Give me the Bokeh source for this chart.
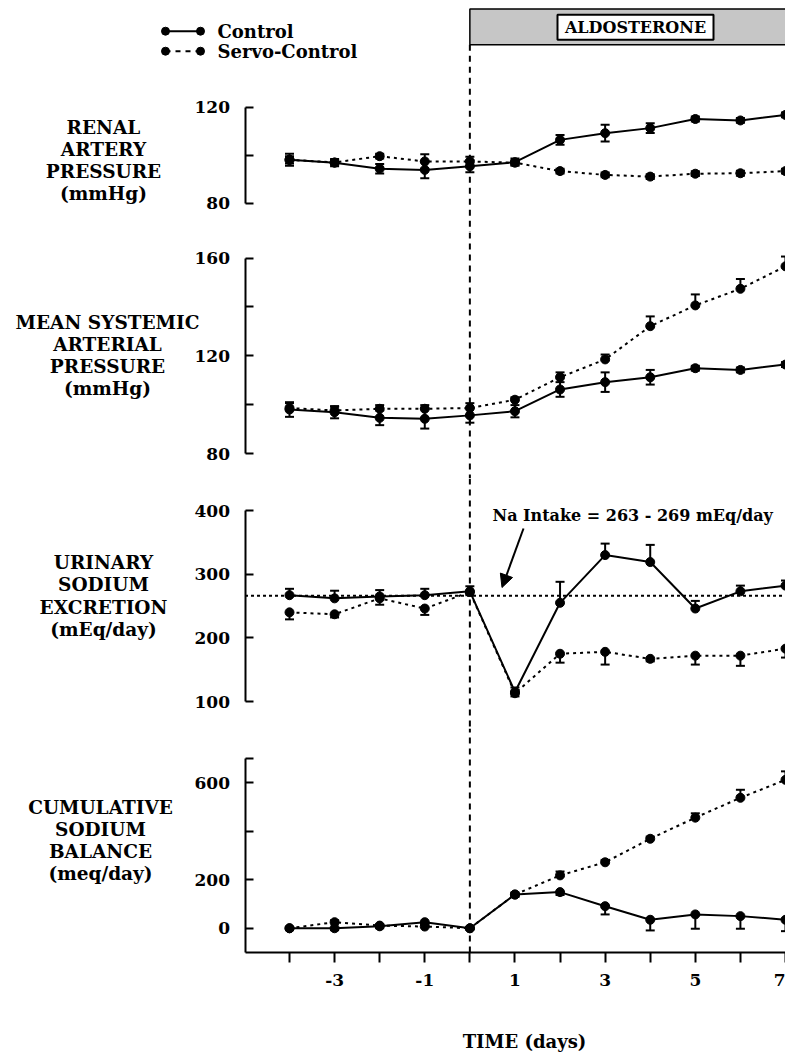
from bokeh.plotting import figure
from bokeh.layouts import column
from bokeh.models import (LinearAxis, FixedTicker, Range1d, Span, Label, Whisker,
                          TeeHead, ColumnDataSource, Arrow, NormalHead)
from bokeh.embed import file_html
from bokeh.resources import INLINE

# ---------------- data ----------------
days = [-4, -3, -2, -1, 0, 1, 2, 3, 4, 5, 6, 7]

rap_control = [98, 96.8, 94.3, 93.8, 95.3, 97, 106.3, 109.1, 111.2, 115, 114.4, 116.7]
rap_control_err = [2.5, 1.5, 2, 3.5, 2.5, 1.5, 2, 3.5, 2, 1, 1, 1]
rap_servo = [98, 96.9, 99.5, 97.3, 97.3, 96.8, 93.3, 91.7, 91, 92.2, 92.4, 93.3]
rap_servo_err = [1.5, 1, 1, 3, 2, 1, 1, 1, 1, 1, 1, 1]

msap_control = [98, 96.9, 94.6, 94.2, 95.6, 97.3, 106.2, 109.2, 111.2, 114.9, 114.2, 116.4]
msap_control_err = [3, 2.5, 3, 4, 3, 2.5, 3, 4, 3, 1, 1, 1]
msap_servo = [98.6, 97.6, 98.3, 98.3, 98.6, 102, 111.2, 118.5, 132.1, 140.6, 147.4, 156.6]
msap_servo_err = [2, 1.5, 1.5, 1.5, 2, 1, 2, 2, 4, 4.5, 4, 4]

una_control = [267, 262, 265, 267, 273, 115, 255, 330, 319, 246, 273, 282]
una_control_err = [10, 12, 10, 10, 8, 7, 33, 18, 27, 12, 9, 8]
una_servo = [240, 237, 262, 246, 272, 113, 175, 178, 167, 172, 172, 183]
una_servo_err = [11, 5, 10, 10, 5, 5, 14, 20, 4, 14, 16, 14]

cum_control = [0, 0, 8, 25, 0, 139, 149, 91, 35, 57, 50, 35]
cum_control_err = [8, 8, 8, 8, 5, 10, 12, 34, 44, 59, 52, 47]
cum_servo = [0, 25, 11, 7, 0, 139, 218, 272, 369, 456, 538, 612]
cum_servo_err = [5, 8, 5, 5, 5, 8, 16, 10, 9, 18, 33, 35]

na_intake_mid = 266
na_intake_text = "Na Intake = 263 - 269 mEq/day"

x_tick_values = list(range(-4, 8))
x_tick_labels = {t: (str(t) if t % 2 else "") for t in x_tick_values}

# ---------------- layout helpers ----------------
FONT = "DejaVu Serif"
W = 785
PAGE_X0 = 0
DAY_M4_PX = 289.0          # page x of day -4
DAY_7_PX = 785.0           # page x of day 7 (right edge)
PX_PER_DAY = (DAY_7_PX - DAY_M4_PX) / 11
AXIS_PX = 244.5            # page x of y axes
X_START = -4 - (DAY_M4_PX - PAGE_X0) / PX_PER_DAY
X_END = -4 + (PAGE_X0 + W - DAY_M4_PX) / PX_PER_DAY


def px2x(px):
    return -4 + (px - DAY_M4_PX) / PX_PER_DAY


AXIS_X = px2x(AXIS_PX)

# (page_top, page_bottom, v_hi, px_hi, v_lo, px_lo)
P1 = (0, 232, 120, 106.5, 80, 202.5)
P2 = (232, 478, 160, 257.5, 80, 453)
P3 = (478, 728, 400, 510, 100, 701)
P4 = (728, 1057, 700, 758, -100, 952)


def scale(P):
    return (P[5] - P[3]) / (P[2] - P[4])


def yrange(P):
    s = scale(P)
    return Range1d(start=P[4] - (P[1] - P[5]) / s, end=P[2] + (P[3] - P[0]) / s)


def py2y(P, py):
    return P[2] + (P[3] - py) / scale(P)


def make_fig(P):
    h = int(round(P[1] - P[0]))
    p = figure(width=W, height=h, x_range=Range1d(X_START, X_END), y_range=yrange(P),
               output_backend="svg", toolbar_location=None,
               x_axis_location=None, y_axis_location=None,
               min_border_left=0, min_border_right=0, min_border_top=0,
               min_border_bottom=0)
    p.grid.visible = False
    p.outline_line_color = None
    p.background_fill_color = "white"
    p.border_fill_color = "white"
    return p


def style_axis(ax):
    ax.axis_line_width = 2
    ax.axis_line_color = "black"
    ax.major_tick_line_width = 2
    ax.minor_tick_line_color = None
    ax.major_label_text_font = FONT
    ax.major_label_text_font_style = "bold"
    ax.major_label_text_font_size = "17px"
    ax.major_label_text_color = "black"


def add_yaxis(p, lo, hi, ticks, hidden):
    ax = LinearAxis(fixed_location=AXIS_X, bounds=(lo, hi),
                    ticker=FixedTicker(ticks=ticks, minor_ticks=[]),
                    major_label_overrides={t: "" for t in hidden})
    style_axis(ax)
    ax.major_tick_in = 8
    ax.major_tick_out = 0
    ax.major_label_standoff = 15
    p.add_layout(ax, "left")


def side_label(p, P, text, cx, cy):
    p.add_layout(Label(x=px2x(cx), y=py2y(P, cy), text=text, text_align="center",
                       text_baseline="middle", text_font=FONT, text_font_style="bold",
                       text_font_size="18.5px", text_line_height=1.05, text_color="black"))


def series(p, yvals, errs, dashed, up=True, down=True):
    lower = [v - (e if down else 0) for v, e in zip(yvals, errs)]
    upper = [v + (e if up else 0) for v, e in zip(yvals, errs)]
    src = ColumnDataSource(dict(x=days, y=yvals, lower=lower, upper=upper))
    p.add_layout(Whisker(source=src, base="x", lower="lower", upper="upper",
                         line_width=2, line_color="black",
                         lower_head=TeeHead(size=9, line_width=2, line_color="black") if down else None,
                         upper_head=TeeHead(size=9, line_width=2, line_color="black") if up else None))
    if dashed:
        p.line("x", "y", source=src, line_color="black", line_width=2, line_dash="3 4")
    else:
        p.line("x", "y", source=src, line_color="black", line_width=2)
    p.scatter("x", "y", source=src, size=9, fill_color="black", line_color="black")


def day0_span(p):
    p.add_layout(Span(location=0, dimension="height", line_color="black",
                      line_width=2, line_dash="6 5"))


# ---------------- panel 1 ----------------
f1 = make_fig(P1)
bar_bottom = py2y(P1, 44.3)
f1.segment(x0=0, y0=bar_bottom, x1=0, y1=py2y(P1, 232), line_color="black",
           line_width=2, line_dash="6 5")
f1.quad(left=0, right=X_END + 1, bottom=bar_bottom, top=py2y(P1, 8.5),
        fill_color="#c6c6c6", line_color="black", line_width=1.5)
f1.quad(left=px2x(557), right=px2x(713), bottom=py2y(P1, 39.3), top=py2y(P1, 14.3),
        fill_color="white", line_color="black", line_width=2)
f1.add_layout(Label(x=px2x(635), y=py2y(P1, 27), text="ALDOSTERONE", text_align="center",
                    text_baseline="middle", text_font=FONT, text_font_style="bold",
                    text_font_size="16px", text_color="black"))
# legend
for py, label, dashed in [(30.7, "Control", False), (50.7, "Servo-Control", True)]:
    yy = py2y(P1, py)
    if dashed:
        f1.segment(x0=px2x(165), y0=yy, x1=px2x(200), y1=yy, line_color="black",
                   line_width=2, line_dash="5 5")
    else:
        f1.segment(x0=px2x(165), y0=yy, x1=px2x(200), y1=yy, line_color="black",
                   line_width=2)
    f1.scatter(x=[px2x(165), px2x(200)], y=[yy, yy], size=8, fill_color="black",
               line_color="black")
    f1.add_layout(Label(x=px2x(217), y=yy, text=label, text_align="left",
                        text_baseline="middle", text_font=FONT, text_font_style="bold",
                        text_font_size="18px", text_color="black"))
add_yaxis(f1, 80, 120, [80, 100, 120], [100])
side_label(f1, P1, "RENAL\nARTERY\nPRESSURE\n(mmHg)", 103, 160)
series(f1, rap_servo, rap_servo_err, True)
series(f1, rap_control, rap_control_err, False)

# ---------------- panel 2 ----------------
f2 = make_fig(P2)
day0_span(f2)
add_yaxis(f2, 80, 160, [80, 100, 120, 140, 160], [100, 140])
side_label(f2, P2, "MEAN SYSTEMIC\nARTERIAL\nPRESSURE\n(mmHg)", 107, 355)
series(f2, msap_servo, msap_servo_err, True, up=True, down=False)
series(f2, msap_control, msap_control_err, False)

# ---------------- panel 3 ----------------
f3 = make_fig(P3)
day0_span(f3)
f3.segment(x0=AXIS_X, y0=na_intake_mid, x1=X_END + 1, y1=na_intake_mid,
           line_color="black", line_width=2, line_dash="3 3")
add_yaxis(f3, 100, 400, [100, 200, 300, 400], [])
side_label(f3, P3, "URINARY\nSODIUM\nEXCRETION\n(mEq/day)", 103, 595.5)
series(f3, una_servo, una_servo_err, True, up=False, down=True)
series(f3, una_control, una_control_err, False, up=True, down=False)
f3.add_layout(Arrow(end=NormalHead(size=13, fill_color="black", line_color="black"),
                    x_start=px2x(523), y_start=py2y(P3, 528),
                    x_end=px2x(501.5), y_end=py2y(P3, 587),
                    line_width=2, line_color="black"))
f3.add_layout(Label(x=px2x(492), y=py2y(P3, 515), text=na_intake_text, text_align="left",
                    text_baseline="middle", text_font=FONT, text_font_style="bold",
                    text_font_size="16px", text_color="black"))

# ---------------- panel 4 ----------------
f4 = make_fig(P4)
Y4_LO = -100
f4.segment(x0=0, y0=Y4_LO, x1=0, y1=py2y(P4, 728), line_color="black",
           line_width=2, line_dash="6 5")
add_yaxis(f4, Y4_LO, 700, [0, 200, 400, 600, 700], [400, 700])
side_label(f4, P4, "CUMULATIVE\nSODIUM\nBALANCE\n(meq/day)", 100, 840)
series(f4, cum_servo, cum_servo_err, True, up=True, down=False)
series(f4, cum_control, cum_control_err, False, up=False, down=True)

xax = LinearAxis(fixed_location=Y4_LO, bounds=(AXIS_X, X_END + 1),
                 ticker=FixedTicker(ticks=x_tick_values, minor_ticks=[]),
                 major_label_overrides=x_tick_labels)
style_axis(xax)
xax.major_tick_in = 0
xax.major_tick_out = 10
xax.major_label_standoff = 11
f4.add_layout(xax, "below")
f4.add_layout(Label(x=px2x(524), y=py2y(P4, 1041), text="TIME (days)", text_align="center",
                    text_baseline="middle", text_font=FONT, text_font_style="bold",
                    text_font_size="18px", text_color="black"))

layout = column(f1, f2, f3, f4, spacing=0)
open("out.html", "w").write(file_html(layout, INLINE))
